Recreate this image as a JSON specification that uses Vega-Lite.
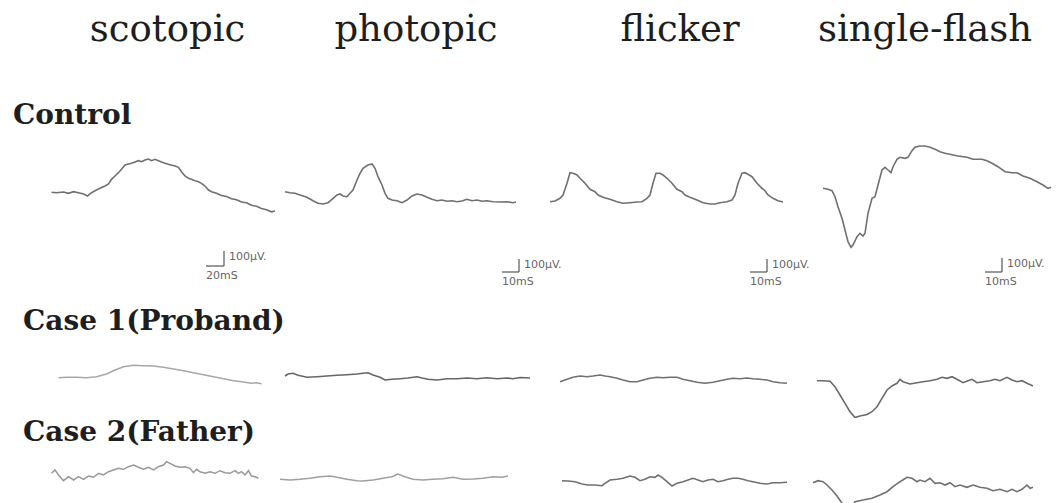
{
  "$schema": "https://vega.github.io/schema/vega-lite/v6.json",
  "background": "#ffffff",
  "padding": 0,
  "config": {"view": {"stroke": null}, "concat": {"spacing": 0}},
  "datasets": {
    "ctrl_scot": [{"t":3,"v":77},{"t":13,"v":73},{"t":27,"v":80},{"t":37,"v":67},{"t":47,"v":83},{"t":57,"v":73},{"t":67,"v":60},{"t":75,"v":40},{"t":81,"v":67},{"t":90,"v":93},{"t":100,"v":117},{"t":110,"v":140},{"t":117,"v":160},{"t":123,"v":207},{"t":130,"v":240},{"t":137,"v":273},{"t":143,"v":307},{"t":150,"v":350},{"t":157,"v":360},{"t":163,"v":367},{"t":170,"v":380},{"t":177,"v":393},{"t":183,"v":383},{"t":190,"v":400},{"t":197,"v":410},{"t":203,"v":393},{"t":210,"v":407},{"t":217,"v":393},{"t":223,"v":380},{"t":230,"v":367},{"t":240,"v":353},{"t":250,"v":340},{"t":257,"v":327},{"t":263,"v":283},{"t":270,"v":240},{"t":277,"v":217},{"t":283,"v":207},{"t":290,"v":193},{"t":297,"v":183},{"t":303,"v":167},{"t":310,"v":140},{"t":317,"v":100},{"t":323,"v":83},{"t":333,"v":67},{"t":343,"v":45},{"t":353,"v":35},{"t":363,"v":12},{"t":373,"v":3},{"t":383,"v":-20},{"t":393,"v":-28},{"t":403,"v":-53},{"t":413,"v":-63},{"t":423,"v":-85},{"t":433,"v":-97},{"t":443,"v":-118},{"t":450,"v":-110}],
    "ctrl_phot": [{"t":0,"v":83},{"t":5,"v":73},{"t":10,"v":67},{"t":15,"v":50},{"t":22,"v":27},{"t":28,"v":-7},{"t":33,"v":-33},{"t":38,"v":-40},{"t":43,"v":-27},{"t":47,"v":7},{"t":52,"v":50},{"t":55,"v":60},{"t":58,"v":40},{"t":62,"v":33},{"t":65,"v":67},{"t":68,"v":100},{"t":72,"v":200},{"t":75,"v":267},{"t":78,"v":317},{"t":83,"v":350},{"t":87,"v":360},{"t":90,"v":317},{"t":93,"v":233},{"t":97,"v":150},{"t":100,"v":67},{"t":103,"v":17},{"t":107,"v":0},{"t":112,"v":-7},{"t":117,"v":-27},{"t":122,"v":0},{"t":127,"v":40},{"t":132,"v":60},{"t":137,"v":50},{"t":142,"v":27},{"t":147,"v":7},{"t":152,"v":-7},{"t":157,"v":0},{"t":162,"v":-13},{"t":167,"v":-7},{"t":172,"v":-17},{"t":177,"v":-10},{"t":182,"v":7},{"t":187,"v":-7},{"t":192,"v":0},{"t":197,"v":-13},{"t":202,"v":-7},{"t":208,"v":-17},{"t":215,"v":-20},{"t":222,"v":-17},{"t":228,"v":-27},{"t":231,"v":-20}],
    "ctrl_flick": [{"t":0,"v":-17},{"t":5,"v":-10},{"t":10,"v":17},{"t":13,"v":50},{"t":17,"v":167},{"t":20,"v":273},{"t":23,"v":267},{"t":27,"v":250},{"t":30,"v":217},{"t":35,"v":167},{"t":40,"v":107},{"t":45,"v":83},{"t":48,"v":50},{"t":53,"v":27},{"t":60,"v":7},{"t":67,"v":-17},{"t":73,"v":-33},{"t":80,"v":-27},{"t":87,"v":-20},{"t":92,"v":-17},{"t":97,"v":17},{"t":100,"v":50},{"t":103,"v":167},{"t":106,"v":267},{"t":110,"v":267},{"t":113,"v":250},{"t":117,"v":217},{"t":122,"v":167},{"t":127,"v":107},{"t":132,"v":83},{"t":135,"v":50},{"t":140,"v":27},{"t":147,"v":0},{"t":153,"v":-27},{"t":160,"v":-40},{"t":165,"v":-40},{"t":170,"v":-27},{"t":177,"v":-17},{"t":182,"v":0},{"t":185,"v":50},{"t":188,"v":167},{"t":192,"v":267},{"t":195,"v":273},{"t":198,"v":257},{"t":202,"v":233},{"t":207,"v":167},{"t":212,"v":117},{"t":215,"v":93},{"t":218,"v":50},{"t":223,"v":17},{"t":228,"v":-7},{"t":233,"v":-20}],
    "ctrl_flash": [{"t":0,"v":117},{"t":5,"v":107},{"t":9,"v":93},{"t":12,"v":33},{"t":15,"v":-67},{"t":19,"v":-183},{"t":22,"v":-300},{"t":25,"v":-417},{"t":28,"v":-473},{"t":30,"v":-450},{"t":34,"v":-367},{"t":37,"v":-333},{"t":40,"v":-360},{"t":42,"v":-333},{"t":45,"v":-133},{"t":49,"v":17},{"t":52,"v":33},{"t":55,"v":150},{"t":59,"v":300},{"t":62,"v":327},{"t":65,"v":300},{"t":68,"v":273},{"t":70,"v":333},{"t":74,"v":407},{"t":77,"v":427},{"t":82,"v":417},{"t":85,"v":427},{"t":89,"v":493},{"t":92,"v":527},{"t":97,"v":540},{"t":102,"v":540},{"t":107,"v":527},{"t":112,"v":507},{"t":117,"v":483},{"t":122,"v":467},{"t":129,"v":453},{"t":135,"v":440},{"t":144,"v":427},{"t":150,"v":407},{"t":159,"v":407},{"t":164,"v":393},{"t":169,"v":367},{"t":175,"v":333},{"t":182,"v":283},{"t":189,"v":273},{"t":194,"v":273},{"t":200,"v":240},{"t":207,"v":217},{"t":214,"v":183},{"t":220,"v":150},{"t":225,"v":117},{"t":228,"v":127}],
    "c1_scot": [{"t":17,"v":-27},{"t":33,"v":-23},{"t":53,"v":-23},{"t":73,"v":-27},{"t":93,"v":-17},{"t":113,"v":10},{"t":130,"v":50},{"t":147,"v":83},{"t":167,"v":97},{"t":187,"v":93},{"t":207,"v":90},{"t":227,"v":77},{"t":247,"v":60},{"t":267,"v":43},{"t":287,"v":23},{"t":307,"v":3},{"t":327,"v":-17},{"t":347,"v":-37},{"t":367,"v":-57},{"t":387,"v":-70},{"t":403,"v":-83},{"t":413,"v":-77},{"t":423,"v":-87}],
    "c1_phot": [{"t":0,"v":-10},{"t":3,"v":10},{"t":8,"v":17},{"t":13,"v":-3},{"t":22,"v":-23},{"t":32,"v":-17},{"t":42,"v":-10},{"t":52,"v":-3},{"t":62,"v":3},{"t":72,"v":10},{"t":78,"v":17},{"t":83,"v":23},{"t":88,"v":0},{"t":95,"v":-23},{"t":100,"v":-50},{"t":107,"v":-43},{"t":115,"v":-37},{"t":123,"v":-30},{"t":132,"v":-17},{"t":137,"v":-30},{"t":143,"v":-43},{"t":152,"v":-50},{"t":162,"v":-37},{"t":172,"v":-37},{"t":182,"v":-30},{"t":192,"v":-37},{"t":202,"v":-27},{"t":212,"v":-37},{"t":222,"v":-30},{"t":228,"v":-37},{"t":235,"v":-25},{"t":245,"v":-30}],
    "c1_flick": [{"t":10,"v":-67},{"t":17,"v":-43},{"t":23,"v":-23},{"t":30,"v":-10},{"t":37,"v":-17},{"t":43,"v":-10},{"t":50,"v":0},{"t":55,"v":-10},{"t":60,"v":-17},{"t":67,"v":-33},{"t":73,"v":-50},{"t":80,"v":-67},{"t":87,"v":-67},{"t":93,"v":-50},{"t":100,"v":-33},{"t":107,"v":-23},{"t":113,"v":-27},{"t":120,"v":-23},{"t":127,"v":-23},{"t":133,"v":-43},{"t":140,"v":-57},{"t":147,"v":-73},{"t":155,"v":-83},{"t":163,"v":-73},{"t":170,"v":-57},{"t":177,"v":-43},{"t":183,"v":-33},{"t":190,"v":-37},{"t":197,"v":-30},{"t":203,"v":-37},{"t":210,"v":-43},{"t":217,"v":-50},{"t":223,"v":-67},{"t":230,"v":-77},{"t":237,"v":-83}],
    "c1_flash": [{"t":-6,"v":-57},{"t":0,"v":-57},{"t":7,"v":-63},{"t":12,"v":-117},{"t":17,"v":-200},{"t":22,"v":-283},{"t":27,"v":-367},{"t":32,"v":-425},{"t":37,"v":-410},{"t":44,"v":-395},{"t":49,"v":-367},{"t":54,"v":-317},{"t":59,"v":-233},{"t":64,"v":-150},{"t":69,"v":-110},{"t":74,"v":-83},{"t":77,"v":-43},{"t":80,"v":-67},{"t":87,"v":-90},{"t":94,"v":-77},{"t":100,"v":-67},{"t":107,"v":-57},{"t":114,"v":-43},{"t":119,"v":-23},{"t":124,"v":-33},{"t":129,"v":-17},{"t":134,"v":-43},{"t":140,"v":-77},{"t":145,"v":-57},{"t":149,"v":-43},{"t":154,"v":-77},{"t":160,"v":-67},{"t":167,"v":-57},{"t":172,"v":-43},{"t":177,"v":-57},{"t":184,"v":-23},{"t":189,"v":-50},{"t":194,"v":-67},{"t":199,"v":-57},{"t":204,"v":-83},{"t":210,"v":-110}],
    "c2_scot": [{"t":3,"v":17},{"t":10,"v":50},{"t":17,"v":0},{"t":27,"v":-57},{"t":37,"v":-17},{"t":47,"v":-50},{"t":57,"v":-17},{"t":67,"v":-43},{"t":77,"v":-10},{"t":87,"v":-23},{"t":97,"v":17},{"t":107,"v":0},{"t":117,"v":33},{"t":127,"v":50},{"t":137,"v":67},{"t":147,"v":57},{"t":157,"v":83},{"t":167,"v":100},{"t":177,"v":77},{"t":187,"v":57},{"t":197,"v":77},{"t":207,"v":50},{"t":217,"v":83},{"t":227,"v":100},{"t":233,"v":133},{"t":240,"v":117},{"t":250,"v":90},{"t":260,"v":77},{"t":270,"v":83},{"t":280,"v":67},{"t":287,"v":23},{"t":293,"v":57},{"t":300,"v":33},{"t":310,"v":17},{"t":320,"v":33},{"t":330,"v":17},{"t":340,"v":43},{"t":350,"v":23},{"t":360,"v":17},{"t":370,"v":43},{"t":377,"v":17},{"t":383,"v":33},{"t":390,"v":0},{"t":397,"v":43},{"t":403,"v":-10},{"t":410,"v":-17},{"t":417,"v":-33}],
    "c2_phot": [{"t":-5,"v":-43},{"t":5,"v":-50},{"t":15,"v":-43},{"t":25,"v":-33},{"t":35,"v":-17},{"t":45,"v":-10},{"t":52,"v":-23},{"t":62,"v":-43},{"t":72,"v":-57},{"t":78,"v":-60},{"t":88,"v":-50},{"t":98,"v":-33},{"t":107,"v":-17},{"t":113,"v":10},{"t":120,"v":-17},{"t":128,"v":-43},{"t":138,"v":-50},{"t":148,"v":-43},{"t":158,"v":-37},{"t":168,"v":-23},{"t":178,"v":-43},{"t":188,"v":-40},{"t":198,"v":-33},{"t":208,"v":-17},{"t":217,"v":-23},{"t":223,"v":-10}],
    "c2_flick": [{"t":12,"v":-57},{"t":18,"v":-60},{"t":25,"v":-67},{"t":32,"v":-90},{"t":38,"v":-100},{"t":45,"v":-100},{"t":52,"v":-107},{"t":55,"v":-83},{"t":60,"v":-50},{"t":67,"v":-43},{"t":73,"v":-33},{"t":80,"v":-10},{"t":85,"v":-23},{"t":90,"v":-57},{"t":95,"v":-43},{"t":100,"v":-17},{"t":105,"v":-23},{"t":108,"v":0},{"t":112,"v":-23},{"t":117,"v":-67},{"t":122,"v":-110},{"t":127,"v":-83},{"t":133,"v":-67},{"t":138,"v":-50},{"t":143,"v":-33},{"t":148,"v":-50},{"t":153,"v":-67},{"t":158,"v":-50},{"t":163,"v":-43},{"t":168,"v":-67},{"t":173,"v":-57},{"t":178,"v":-43},{"t":183,"v":-33},{"t":188,"v":-33},{"t":193,"v":-43},{"t":198,"v":-57},{"t":203,"v":-67},{"t":210,"v":-83},{"t":217,"v":-90},{"t":223,"v":-77},{"t":230,"v":-77},{"t":237,"v":-73}],
    "c2_flash": [{"t":-10,"v":-77},{"t":-5,"v":-57},{"t":0,"v":-67},{"t":4,"v":-100},{"t":9,"v":-150},{"t":14,"v":-210},{"t":18,"v":-267},{"t":20,"v":-300},{"t":27,"v":-360},{"t":32,"v":-267},{"t":40,"v":-250},{"t":49,"v":-233},{"t":57,"v":-200},{"t":64,"v":-167},{"t":70,"v":-117},{"t":77,"v":-67},{"t":84,"v":-23},{"t":89,"v":-33},{"t":94,"v":-67},{"t":97,"v":-50},{"t":102,"v":-67},{"t":107,"v":-33},{"t":112,"v":-83},{"t":117,"v":-77},{"t":122,"v":-100},{"t":127,"v":-77},{"t":132,"v":-117},{"t":137,"v":-100},{"t":144,"v":-123},{"t":150,"v":-100},{"t":157,"v":-123},{"t":164,"v":-133},{"t":170,"v":-157},{"t":177,"v":-143},{"t":184,"v":-167},{"t":189,"v":-143},{"t":194,"v":-167},{"t":199,"v":-143},{"t":204,"v":-100},{"t":207,"v":-133},{"t":210,"v":-123}]
  },
  "vconcat": [
    {
      "hconcat": [
        {"width": 335, "height": 82, "data": {"values": [{"protocol": "scotopic"}]}, "mark": {"type": "text", "font": "DejaVu Serif", "fontSize": 37, "baseline": "alphabetic", "color": "#1e1e1e"}, "encoding": {"text": {"field": "protocol"}}},
        {"width": 162, "height": 82, "data": {"values": [{"protocol": "photopic"}]}, "mark": {"type": "text", "font": "DejaVu Serif", "fontSize": 37, "baseline": "alphabetic", "color": "#1e1e1e"}, "encoding": {"text": {"field": "protocol"}}},
        {"width": 366, "height": 82, "data": {"values": [{"protocol": "flicker"}]}, "mark": {"type": "text", "font": "DejaVu Serif", "fontSize": 37, "baseline": "alphabetic", "color": "#1e1e1e"}, "encoding": {"text": {"field": "protocol"}}},
        {"width": 124, "height": 82, "data": {"values": [{"protocol": "single-flash"}]}, "mark": {"type": "text", "font": "DejaVu Serif", "fontSize": 37, "baseline": "alphabetic", "color": "#1e1e1e"}, "encoding": {"text": {"field": "protocol"}}}
      ],
      "spacing": 0, "bounds": "flush"
    },
    {"width": 26, "height": 53, "data": {"values": [{"subject": "Control"}]}, "mark": {"type": "text", "align": "left", "baseline": "alphabetic", "dy": 15, "font": "DejaVu Serif", "fontWeight": "bold", "fontSize": 28, "color": "#1e1e1e"}, "encoding": {"text": {"field": "subject"}}},
    {
      "hconcat": [
        {"width": 280, "height": 155, "layer": [
          {"data": {"name": "ctrl_scot"}, "mark": {"type": "line", "color": "#707070", "strokeWidth": 1.6}, "encoding": {"x": {"field": "t", "type": "quantitative", "scale": {"domain": [-100, 460], "nice": false, "zero": false}, "axis": null}, "y": {"field": "v", "type": "quantitative", "scale": {"domain": [-900, 650], "nice": false, "zero": false}, "axis": null}}},
          {"data": {"values": [{"t": 312, "t2": 348, "v": -660, "v2": -510, "tl": "20mS", "vl": "100µV."}]},
           "encoding": {"x": {"field": "t", "type": "quantitative", "scale": {"domain": [-100, 460], "nice": false, "zero": false}, "axis": null}, "y": {"field": "v", "type": "quantitative", "scale": {"domain": [-900, 650], "nice": false, "zero": false}, "axis": null}},
           "layer": [
            {"mark": {"type": "rule", "color": "#555", "strokeWidth": 1.2}, "encoding": {"x2": {"field": "t2"}}},
            {"mark": {"type": "rule", "color": "#555", "strokeWidth": 1.2}, "encoding": {"x": {"field": "t2", "type": "quantitative"}, "y2": {"field": "v2"}}},
            {"mark": {"type": "text", "align": "left", "baseline": "top", "dx": 5, "font": "DejaVu Sans", "fontSize": 11, "color": "#666"}, "encoding": {"x": {"field": "t2", "type": "quantitative"}, "y": {"field": "v2", "type": "quantitative"}, "text": {"field": "vl"}}},
            {"mark": {"type": "text", "align": "left", "baseline": "top", "dy": 4, "font": "DejaVu Sans", "fontSize": 11, "color": "#666"}, "encoding": {"text": {"field": "tl"}}}
           ]}
        ]},
        {"width": 250, "height": 155, "layer": [
          {"data": {"name": "ctrl_phot"}, "mark": {"type": "line", "color": "#707070", "strokeWidth": 1.6}, "encoding": {"x": {"field": "t", "type": "quantitative", "scale": {"domain": [-5, 245], "nice": false, "zero": false}, "axis": null}, "y": {"field": "v", "type": "quantitative", "scale": {"domain": [-900, 650], "nice": false, "zero": false}, "axis": null}}},
          {"data": {"values": [{"t": 217, "t2": 234, "v": -720, "v2": -590, "tl": "10mS", "vl": "100µV."}]},
           "encoding": {"x": {"field": "t", "type": "quantitative", "scale": {"domain": [-5, 245], "nice": false, "zero": false}, "axis": null}, "y": {"field": "v", "type": "quantitative", "scale": {"domain": [-900, 650], "nice": false, "zero": false}, "axis": null}},
           "layer": [
            {"mark": {"type": "rule", "color": "#555", "strokeWidth": 1.2}, "encoding": {"x2": {"field": "t2"}}},
            {"mark": {"type": "rule", "color": "#555", "strokeWidth": 1.2}, "encoding": {"x": {"field": "t2", "type": "quantitative"}, "y2": {"field": "v2"}}},
            {"mark": {"type": "text", "align": "left", "baseline": "top", "dx": 5, "font": "DejaVu Sans", "fontSize": 11, "color": "#666"}, "encoding": {"x": {"field": "t2", "type": "quantitative"}, "y": {"field": "v2", "type": "quantitative"}, "text": {"field": "vl"}}},
            {"mark": {"type": "text", "align": "left", "baseline": "top", "dy": 4, "font": "DejaVu Sans", "fontSize": 11, "color": "#666"}, "encoding": {"text": {"field": "tl"}}}
           ]}
        ]},
        {"width": 280, "height": 155, "layer": [
          {"data": {"name": "ctrl_flick"}, "mark": {"type": "line", "color": "#707070", "strokeWidth": 1.6}, "encoding": {"x": {"field": "t", "type": "quantitative", "scale": {"domain": [-20, 260], "nice": false, "zero": false}, "axis": null}, "y": {"field": "v", "type": "quantitative", "scale": {"domain": [-900, 650], "nice": false, "zero": false}, "axis": null}}},
          {"data": {"values": [{"t": 200, "t2": 217, "v": -720, "v2": -590, "tl": "10mS", "vl": "100µV."}]},
           "encoding": {"x": {"field": "t", "type": "quantitative", "scale": {"domain": [-20, 260], "nice": false, "zero": false}, "axis": null}, "y": {"field": "v", "type": "quantitative", "scale": {"domain": [-900, 650], "nice": false, "zero": false}, "axis": null}},
           "layer": [
            {"mark": {"type": "rule", "color": "#555", "strokeWidth": 1.2}, "encoding": {"x2": {"field": "t2"}}},
            {"mark": {"type": "rule", "color": "#555", "strokeWidth": 1.2}, "encoding": {"x": {"field": "t2", "type": "quantitative"}, "y2": {"field": "v2"}}},
            {"mark": {"type": "text", "align": "left", "baseline": "top", "dx": 5, "font": "DejaVu Sans", "fontSize": 11, "color": "#666"}, "encoding": {"x": {"field": "t2", "type": "quantitative"}, "y": {"field": "v2", "type": "quantitative"}, "text": {"field": "vl"}}},
            {"mark": {"type": "text", "align": "left", "baseline": "top", "dy": 4, "font": "DejaVu Sans", "fontSize": 11, "color": "#666"}, "encoding": {"text": {"field": "tl"}}}
           ]}
        ]},
        {"width": 252, "height": 155, "layer": [
          {"data": {"name": "ctrl_flash"}, "mark": {"type": "line", "color": "#707070", "strokeWidth": 1.6}, "encoding": {"x": {"field": "t", "type": "quantitative", "scale": {"domain": [-13, 239], "nice": false, "zero": false}, "axis": null}, "y": {"field": "v", "type": "quantitative", "scale": {"domain": [-900, 650], "nice": false, "zero": false}, "axis": null}}},
          {"data": {"values": [{"t": 162, "t2": 179, "v": -720, "v2": -580, "tl": "10mS", "vl": "100µV."}]},
           "encoding": {"x": {"field": "t", "type": "quantitative", "scale": {"domain": [-13, 239], "nice": false, "zero": false}, "axis": null}, "y": {"field": "v", "type": "quantitative", "scale": {"domain": [-900, 650], "nice": false, "zero": false}, "axis": null}},
           "layer": [
            {"mark": {"type": "rule", "color": "#555", "strokeWidth": 1.2}, "encoding": {"x2": {"field": "t2"}}},
            {"mark": {"type": "rule", "color": "#555", "strokeWidth": 1.2}, "encoding": {"x": {"field": "t2", "type": "quantitative"}, "y2": {"field": "v2"}}},
            {"mark": {"type": "text", "align": "left", "baseline": "top", "dx": 5, "font": "DejaVu Sans", "fontSize": 11, "color": "#666"}, "encoding": {"x": {"field": "t2", "type": "quantitative"}, "y": {"field": "v2", "type": "quantitative"}, "text": {"field": "vl"}}},
            {"mark": {"type": "text", "align": "left", "baseline": "top", "dy": 4, "font": "DejaVu Sans", "fontSize": 11, "color": "#666"}, "encoding": {"text": {"field": "tl"}}}
           ]}
        ]}
      ],
      "spacing": 0, "bounds": "flush"
    },
    {"width": 46, "height": 55, "data": {"values": [{"subject": "Case 1(Proband)"}]}, "mark": {"type": "text", "align": "left", "baseline": "alphabetic", "dy": 12, "font": "DejaVu Serif", "fontWeight": "bold", "fontSize": 28, "color": "#1e1e1e"}, "encoding": {"text": {"field": "subject"}}},
    {
      "hconcat": [
        {"width": 280, "height": 73, "data": {"name": "c1_scot"}, "mark": {"type": "line", "color": "#a8a8a8", "strokeWidth": 1.6}, "encoding": {"x": {"field": "t", "type": "quantitative", "scale": {"domain": [-100, 460], "nice": false, "zero": false}, "axis": null}, "y": {"field": "v", "type": "quantitative", "scale": {"domain": [-430, 300], "nice": false, "zero": false}, "axis": null}}},
        {"width": 250, "height": 73, "data": {"name": "c1_phot"}, "mark": {"type": "line", "color": "#666666", "strokeWidth": 1.6}, "encoding": {"x": {"field": "t", "type": "quantitative", "scale": {"domain": [-5, 245], "nice": false, "zero": false}, "axis": null}, "y": {"field": "v", "type": "quantitative", "scale": {"domain": [-430, 300], "nice": false, "zero": false}, "axis": null}}},
        {"width": 280, "height": 73, "data": {"name": "c1_flick"}, "mark": {"type": "line", "color": "#707070", "strokeWidth": 1.6}, "encoding": {"x": {"field": "t", "type": "quantitative", "scale": {"domain": [-20, 260], "nice": false, "zero": false}, "axis": null}, "y": {"field": "v", "type": "quantitative", "scale": {"domain": [-430, 300], "nice": false, "zero": false}, "axis": null}}},
        {"width": 252, "height": 73, "data": {"name": "c1_flash"}, "mark": {"type": "line", "color": "#6a6a6a", "strokeWidth": 1.6, "clip": true}, "encoding": {"x": {"field": "t", "type": "quantitative", "scale": {"domain": [-13, 239], "nice": false, "zero": false}, "axis": null}, "y": {"field": "v", "type": "quantitative", "scale": {"domain": [-430, 300], "nice": false, "zero": false}, "axis": null}}}
      ],
      "spacing": 0, "bounds": "flush"
    },
    {"width": 46, "height": 32, "data": {"values": [{"subject": "Case 2(Father)"}]}, "mark": {"type": "text", "align": "left", "baseline": "alphabetic", "dy": 7, "font": "DejaVu Serif", "fontWeight": "bold", "fontSize": 28, "color": "#1e1e1e"}, "encoding": {"text": {"field": "subject"}}},
    {
      "hconcat": [
        {"width": 280, "height": 53, "data": {"name": "c2_scot"}, "mark": {"type": "line", "color": "#999999", "strokeWidth": 1.5}, "encoding": {"x": {"field": "t", "type": "quantitative", "scale": {"domain": [-100, 460], "nice": false, "zero": false}, "axis": null}, "y": {"field": "v", "type": "quantitative", "scale": {"domain": [-280, 250], "nice": false, "zero": false}, "axis": null}}},
        {"width": 250, "height": 53, "data": {"name": "c2_phot"}, "mark": {"type": "line", "color": "#a0a0a0", "strokeWidth": 1.5}, "encoding": {"x": {"field": "t", "type": "quantitative", "scale": {"domain": [-5, 245], "nice": false, "zero": false}, "axis": null}, "y": {"field": "v", "type": "quantitative", "scale": {"domain": [-280, 250], "nice": false, "zero": false}, "axis": null}}},
        {"width": 280, "height": 53, "data": {"name": "c2_flick"}, "mark": {"type": "line", "color": "#707070", "strokeWidth": 1.6}, "encoding": {"x": {"field": "t", "type": "quantitative", "scale": {"domain": [-20, 260], "nice": false, "zero": false}, "axis": null}, "y": {"field": "v", "type": "quantitative", "scale": {"domain": [-280, 250], "nice": false, "zero": false}, "axis": null}}},
        {"width": 252, "height": 53, "data": {"name": "c2_flash"}, "mark": {"type": "line", "color": "#707070", "strokeWidth": 1.6, "clip": true}, "encoding": {"x": {"field": "t", "type": "quantitative", "scale": {"domain": [-13, 239], "nice": false, "zero": false}, "axis": null}, "y": {"field": "v", "type": "quantitative", "scale": {"domain": [-280, 250], "nice": false, "zero": false}, "axis": null}}}
      ],
      "spacing": 0, "bounds": "flush"
    }
  ],
  "spacing": 0
}
